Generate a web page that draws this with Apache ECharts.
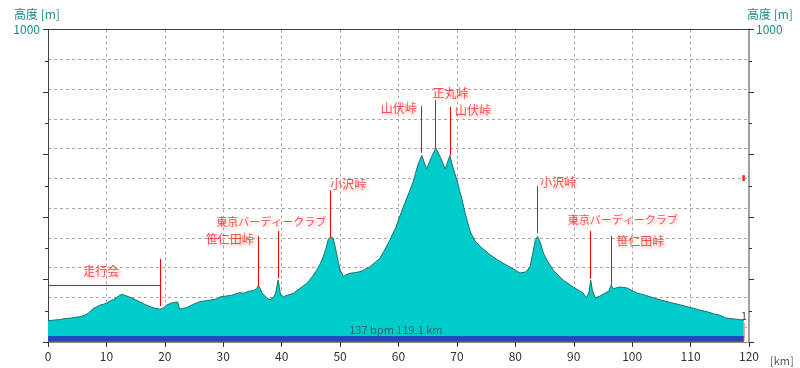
<!DOCTYPE html>
<html><head><meta charset="utf-8">
<script src="https://cdn.jsdelivr.net/npm/echarts@6/dist/echarts.min.js"></script>
<style>html,body{margin:0;padding:0;background:#fff}#c{width:800px;height:368px}</style>
</head><body><div id="c"></div>
<script>
// ---- data ----
const distKm = [0,1,2,3,4,5,5.5,6,6.5,6.9,7.3,7.8,8.3,8.9,9.5,10,10.6,11.2,11.8,12.3,12.8,13.5,14.2,15,15.7,16.5,17.5,18.3,19.2,19.8,20.3,21,21.7,22.2,22.5,23,23.7,24.9,26,27,28,28.9,29.4,30.5,31.5,32.8,33.5,34.3,35.2,35.7,36.0,36.3,36.6,37.0,37.5,38.0,38.3,38.7,39.0,39.2,39.4,39.6,39.8,40.3,41.0,42.0,43.0,44.3,45.2,46.0,46.6,47.1,47.6,48.0,48.4,48.8,49.1,49.4,49.7,50.0,50.6,51.0,51.7,52.5,53.4,54.2,55.1,56.0,56.8,57.5,58.5,59.5,60.5,61.5,62.5,63.3,64.0,64.4,64.8,65.6,66.4,67.2,68.0,68.8,69.3,70.0,70.8,71.5,72.3,73.2,74.3,75.5,77.0,78.5,80.0,80.8,81.8,82.5,83.0,83.4,83.8,84.3,84.8,85.4,86.5,88.2,89.9,91.6,92.2,92.6,92.9,93.2,93.7,94.5,95.4,96.0,96.4,96.8,97.4,97.9,99.1,100.8,102.2,103.7,105.0,106.6,108.0,109.4,110.5,111.6,113,114,115,116,117.3,118.3,119.1];
const elevM = [68,70,72,75,77,80,81,84,88,92,100,108,112,118,121,124,131,136,143,150,152,147,142,135,129,121,113,108,105,110,118,124,127,128,106,107,110,121,129,132,135,138,144,147,150,158,156,162,165,170,181,172,158,150,140,135,134,145,160,180,199,175,152,145,150,156,170,188,208,230,250,273,300,330,336,333,310,284,255,230,209,215,220,222,225,232,241,255,268,290,326,365,416,464,512,566,597,575,554,590,621,590,554,597,560,518,461,406,352,320,301,282,262,246,230,221,224,240,285,325,338,317,285,262,230,198,176,157,141,160,198,165,141,147,157,163,182,170,174,176,173,157,150,141,134,126,120,113,108,102,96,90,86,77,74,72,70];

const markNames = ['笹仁田峠','東京バーディークラブ','小沢峠','山伏峠','正丸峠','山伏峠','小沢峠','東京バーディークラブ','笹仁田峠'];
const markKm    = [36.0, 39.4, 48.25, 63.95, 66.35, 68.8, 83.75, 92.9, 96.4];
const markBaseM = [179, 205, 333, 605, 621, 598, 349, 202, 182];
const markTopM  = [339, 355, 486, 755, 774, 752, 499, 355, 339];

const eventName = '走行会';
const eventKm = 19.3;
const eventLineM = 182;
const eventBaseM = 115;
const eventTopM = 266;

const totalKm = 119.1;
const avgHr = 137;
const xTicks = [0,10,20,30,40,50,60,70,80,90,100,110,120];
const yLabel = 1000;

// ---- styles (label offsets in px) ----
const labelOffsets = [[-28.5,3],[-7,-9],[18.5,-6],[-22.7,2],[14.8,-7],[23,3],[21,-4],[32,-11],[29,5]];
const labelSizes = [12,11,12,12,12,12,12,11,12];

const FONT = '"Noto Sans CJK JP", "Noto Sans", sans-serif';
const RED = '#ff2020';
const redText = {color: RED, fontFamily: FONT, textShadowColor: 'rgba(255,70,70,0.45)', textShadowBlur: 3, textShadowOffsetX: 2, textShadowOffsetY: 2};

const profile = distKm.map((d,i)=>[d, elevM[i]]);

const vLines = markKm.map((k,i)=>[{coord:[k, markTopM[i]]},{coord:[k, markBaseM[i]]}]);
vLines.push([{coord:[eventKm, eventTopM]},{coord:[eventKm, eventBaseM]}]);
vLines.push([{coord:[0, eventLineM]},{coord:[eventKm, eventLineM]}]);

const labelData = markKm.map((k,i)=>({
  name: markNames[i], value:[k, markTopM[i]],
  label:{offset: labelOffsets[i], fontSize: labelSizes[i]}
}));
labelData.push({name: eventName, value:[eventKm, eventTopM], label:{offset:[-59.5,13], fontSize:12}});

const chart = echarts.init(document.getElementById('c'), null, {renderer:'canvas'});
const tickStyle = {color:'#333', width:1};
chart.setOption({
  animation:false,
  backgroundColor:'#ffffff',
  textStyle:{fontFamily:FONT},
  title:[
    {text:'高度 [m]', left:9, top:3, textStyle:{fontSize:12, fontWeight:'normal', color:'#1a8a8a', fontFamily:FONT}},
    {text:'高度 [m]', left:742, top:3, textStyle:{fontSize:12, fontWeight:'normal', color:'#1a8a8a', fontFamily:FONT}},
    {text:'[km]', left:765, top:350, textStyle:{fontSize:11, fontWeight:'normal', color:'#555', fontFamily:FONT}}
  ],
  grid:[
    {left:48, right:51, top:29.5, bottom:26},
    {left:48, right:51, top:29.5, bottom:41}
  ],
  xAxis:[
    {gridIndex:0, type:'value', min:0, max:120, interval:10,
     axisLine:{onZero:false, lineStyle:{color:'#9c8c6c', width:1}},
     axisTick:{length:5, lineStyle:tickStyle},
     axisLabel:{color:'#333', fontSize:12, margin:8, fontFamily:FONT,
       formatter:v=> xTicks.includes(v) ? String(v) : ''},
     splitLine:{show:false}},
    {gridIndex:0, type:'value', position:'top', min:0, max:120,
     axisLine:{onZero:false, lineStyle:{color:'#404040', width:1}},
     axisTick:{show:false}, axisLabel:{show:false}, splitLine:{show:false}},
    {gridIndex:1, type:'value', min:0, max:120, interval:10,
     axisLine:{show:false}, axisTick:{show:false}, axisLabel:{show:false},
     splitLine:{show:true, lineStyle:{color:'#a8a8a8', type:[3,3], width:1}}}
  ],
  yAxis:[
    {gridIndex:0, type:'value', position:'left', min:0, max:1000, interval:200,
     axisLine:{show:true, onZero:false, lineStyle:{color:'#404040', width:1}},
     axisTick:{show:true, length:5, lineStyle:tickStyle},
     minorTick:{show:true, splitNumber:2, length:3, lineStyle:tickStyle},
     axisLabel:{color:'#1a8a8a', fontSize:12, margin:8, fontFamily:FONT, formatter:v=> v===yLabel ? String(v) : ''},
     splitLine:{show:false}, minorSplitLine:{show:false}},
    {gridIndex:0, type:'value', position:'right', min:0, max:1000, interval:200,
     axisLine:{show:true, onZero:false, lineStyle:{color:'#a0a0a0', width:2}},
     axisTick:{show:true, length:5, lineStyle:tickStyle},
     minorTick:{show:true, splitNumber:2, length:3, lineStyle:tickStyle},
     axisLabel:{color:'#1a8a8a', fontSize:12, margin:7, fontFamily:FONT, formatter:v=> v===yLabel ? String(v) : ''},
     splitLine:{show:false}, minorSplitLine:{show:false}},
    {gridIndex:1, type:'value', min:0, max:10, interval:1,
     axisLine:{show:false}, axisTick:{show:false}, axisLabel:{show:false},
     splitLine:{show:true, lineStyle:{color:'#a8a8a8', type:[3,3], width:1}}}
  ],
  series:[
    {type:'line', xAxisIndex:2, yAxisIndex:2, data:[], silent:true},
    {type:'line', name:'elevation', xAxisIndex:0, yAxisIndex:0, data:profile, z:2,
     showSymbol:false, symbol:'none', smooth:false,
     lineStyle:{color:'#1e7070', width:1},
     areaStyle:{color:'#00cccc', opacity:1}},
    {type:'line', xAxisIndex:0, yAxisIndex:0, data:[], z:4, silent:true,
     markArea:{silent:true, z:10, data:[
       [{coord:[0,1], itemStyle:{color:'#2048c0'},
         label:{show:true, position:'top', distance:1, formatter: avgHr+' bpm '+totalKm+' km', color:'#2b6868', fontSize:11, fontFamily:FONT}},
        {coord:[totalKm,19]}],
       [{coord:[totalKm-0.25,515], itemStyle:{color:'#e83030'}, label:{show:false}},{coord:[totalKm+0.2,534]}]
     ]},
     markLine:{silent:true, z:10, symbol:['none','none'], animation:false, data:[
       [{coord:[totalKm+0.05,62], lineStyle:{color:'#ff9a9a', width:1, type:'solid'},
         label:{show:true, position:'start', formatter:'1', color:'#333', fontSize:10, distance:1}},
        {coord:[totalKm+0.05,4]}]
     ]}},
    {type:'line', xAxisIndex:0, yAxisIndex:0, data:[], z:5, silent:true,
     markLine:{silent:true, z:11, symbol:['none','none'], animation:false,
       lineStyle:{color:'#ff0000', width:1, type:'solid'},
       label:{show:false}, data:vLines}},
    {type:'scatter', xAxisIndex:0, yAxisIndex:0, z:12, silent:true, symbolSize:0,
     data:labelData,
     label:Object.assign({show:true, position:'inside', align:'center', verticalAlign:'middle', formatter:'{b}', fontSize:12}, redText)}
  ]
});
</script>
</body></html>
